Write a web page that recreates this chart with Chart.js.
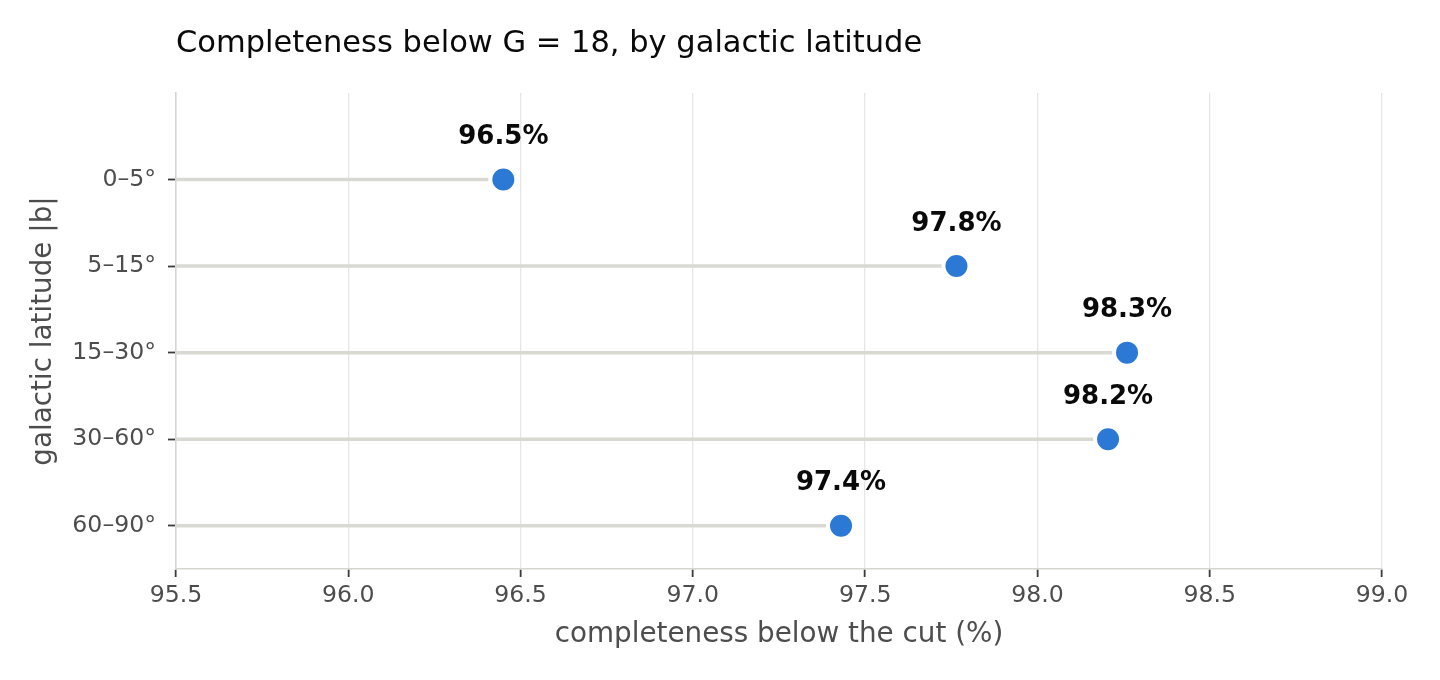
<!DOCTYPE html>
<html>
<head>
<meta charset="utf-8">
<script src="https://cdn.jsdelivr.net/npm/chart.js@4"></script>
<style>
html,body{margin:0;padding:0;background:#fff;}
#wrap{width:1440px;height:680px;position:relative;}
</style>
</head>
<body>
<div id="wrap"><canvas id="c" width="1440" height="680"></canvas></div>
<script>
const categories = ["0–5°", "5–15°", "15–30°", "30–60°", "60–90°"];
const completeness = [96.45, 97.765, 98.26, 98.205, 97.43];
const xTicks = [95.5, 96.0, 96.5, 97.0, 97.5, 98.0, 98.5, 99.0];
const xMin = 95.5, xMax = 99.0;
const titleText = "Completeness below G = 18, by galactic latitude";
const xTitle = "completeness below the cut (%)";
const yTitle = "galactic latitude |b|";

const FONT = "'DejaVu Sans', sans-serif";

const stemDatasets = categories.map((c, i) => ({
  type: 'line',
  data: [{x: xMin, y: i}, {x: completeness[i], y: i}],
  borderColor: '#d9d9d3',
  borderWidth: 3.5,
  pointRadius: 0,
  pointHoverRadius: 0,
  order: 2
}));

const pointDataset = {
  type: 'scatter',
  data: completeness.map((v, i) => ({x: v, y: i})),
  backgroundColor: '#2b78d5',
  borderColor: '#ffffff',
  borderWidth: 4,
  pointRadius: 13,
  pointHoverRadius: 13,
  order: 1
};

const labelPlugin = {
  id: 'labels',
  afterDatasetsDraw(chart) {
    const ctx = chart.ctx;
    const xs = chart.scales.x, ys = chart.scales.y;
    const ca = chart.chartArea;
    ctx.save();
    ctx.font = "bold 26px " + FONT;
    ctx.fillStyle = '#0a0a0a';
    ctx.textAlign = 'center';
    ctx.textBaseline = 'middle';
    completeness.forEach((v, i) => {
      ctx.fillText(v.toFixed(1) + '%', xs.getPixelForValue(v), ys.getPixelForValue(i) - 42);
    });
    // title
    ctx.font = "30.5px " + FONT;
    ctx.fillStyle = '#0a0a0a';
    ctx.textAlign = 'left';
    ctx.textBaseline = 'middle';
    ctx.fillText(titleText, ca.left, 44);
    // axis titles
    ctx.font = "27.8px " + FONT;
    ctx.fillStyle = '#4d4d4d';
    ctx.textAlign = 'center';
    ctx.fillText(xTitle, (ca.left + ca.right) / 2, 635);
    ctx.translate(44, (ca.top + ca.bottom) / 2);
    ctx.rotate(-Math.PI / 2);
    ctx.fillText(yTitle, 0, 0);
    ctx.restore();
  }
};

new Chart(document.getElementById('c'), {
  type: 'scatter',
  data: { datasets: [...stemDatasets, pointDataset] },
  options: {
    responsive: false,
    animation: false,
    devicePixelRatio: 1,
    layout: { padding: { top: 93, right: 58, left: 0, bottom: 0 } },
    plugins: { legend: { display: false }, tooltip: { enabled: false }, title: { display: false } },
    scales: {
      x: {
        type: 'linear',
        min: xMin, max: xMax,
        afterBuildTicks(scale) { scale.ticks = xTicks.map(v => ({value: v})); },
        afterFit(scale) { scale.height = 680 - 569; },
        border: { display: true, color: '#d6d6d0', width: 1.5 },
        grid: { color: '#e6e6e6', lineWidth: 1.3, drawTicks: true, tickLength: 8, tickColor: '#3a3a3a', tickWidth: 1.8 },
        ticks: { font: { family: FONT, size: 23.6 }, color: '#4d4d4d', padding: 5, callback: v => v.toFixed(1), maxRotation: 0, autoSkip: false },
        title: { display: false }
      },
      y: {
        type: 'linear',
        reverse: true,
        min: -1, max: 4.5,
        afterBuildTicks(scale) { scale.ticks = categories.map((c, i) => ({value: i})); },
        afterFit(scale) { scale.width = 176; },
        border: { display: true, color: '#d6d6d0', width: 1.5 },
        grid: { drawOnChartArea: false, drawTicks: true, tickLength: 8, tickColor: '#3a3a3a', tickWidth: 1.8 },
        ticks: { font: { family: FONT, size: 23.6 }, color: '#4d4d4d', padding: 12, callback: (v) => categories[v] ?? '' },
        title: { display: false }
      }
    }
  },
  plugins: [labelPlugin]
});
</script>
</body>
</html>
